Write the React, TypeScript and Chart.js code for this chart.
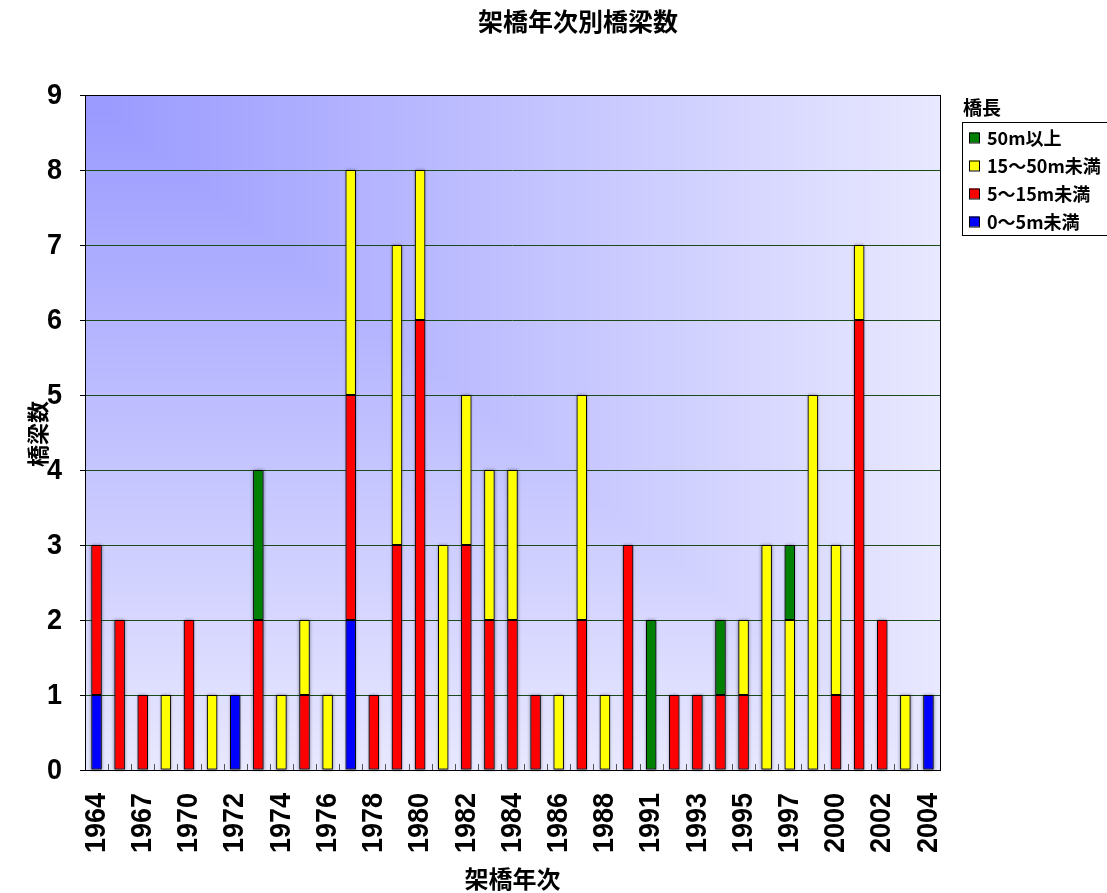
import React, { useEffect, useRef } from 'react';
import { Chart, registerables } from 'chart.js';

Chart.register(...registerables);

const years = [
  '1964', '1965', '1967', '1969', '1970', '1971', '1972', '1973', '1974', '1975',
  '1976', '1977', '1978', '1979', '1980', '1981', '1982', '1983', '1984', '1985',
  '1986', '1987', '1988', '1990', '1991', '1992', '1993', '1994', '1995', '1996',
  '1997', '1999', '2000', '2001', '2002', '2003', '2004',
];

const under5m = [1, 0, 0, 0, 0, 0, 1, 0, 0, 0, 0, 2, 0, 0, 0, 0, 0, 0, 0, 0, 0, 0, 0, 0, 0, 0, 0, 0, 0, 0, 0, 0, 0, 0, 0, 0, 1];
const m5to15 = [2, 2, 1, 0, 2, 0, 0, 2, 0, 1, 0, 3, 1, 3, 6, 0, 3, 2, 2, 1, 0, 2, 0, 3, 0, 1, 1, 1, 1, 0, 0, 0, 1, 6, 2, 0, 0];
const m15to50 = [0, 0, 0, 1, 0, 1, 0, 0, 1, 1, 1, 3, 0, 4, 2, 3, 2, 2, 2, 0, 1, 3, 1, 0, 0, 0, 0, 0, 1, 3, 2, 5, 2, 1, 0, 1, 0];
const over50m = [0, 0, 0, 0, 0, 0, 0, 2, 0, 0, 0, 0, 0, 0, 0, 0, 0, 0, 0, 0, 0, 0, 0, 0, 2, 0, 0, 1, 0, 0, 1, 0, 0, 0, 0, 0, 0];

const seriesLabels = ['0～5m未満', '5～15m未満', '15～50m未満', '50m以上'];
const seriesColors = ['#0000ff', '#ff0000', '#ffff00', '#008000'];

const chartTitle = '架橋年次別橋梁数';
const xTitle = '架橋年次';
const yTitle = '橋梁数';
const legendTitle = '橋長';

const DIGITS = '"Liberation Sans", Arial, sans-serif';
const CJK = '"Noto Sans CJK JP", sans-serif';
const TICK_FONT = `700 30px ${DIGITS}`;
const TICK_SX = 0.9;

const decoPlugin = {
  id: 'deco',
  beforeDraw(chart: any) {
    const { ctx, chartArea: a } = chart;
    ctx.save();
    ctx.fillStyle = '#ffffff';
    ctx.fillRect(0, 0, chart.width, chart.height);
    const L = Math.round(a.left);
    const T = Math.round(a.top);
    const W = Math.round(a.right - a.left);
    const H = Math.round(a.bottom - a.top);
    const c0 = [153, 153, 255];
    const c1 = [232, 232, 255];
    const img = ctx.createImageData(W, H);
    for (let y = 0; y < H; y++) {
      const v = y / (H - 1);
      for (let x = 0; x < W; x++) {
        const u = x / (W - 1);
        const t = Math.max(u, v);
        const o = (y * W + x) * 4;
        img.data[o] = c0[0] + (c1[0] - c0[0]) * t;
        img.data[o + 1] = c0[1] + (c1[1] - c0[1]) * t;
        img.data[o + 2] = c0[2] + (c1[2] - c0[2]) * t;
        img.data[o + 3] = 255;
      }
    }
    ctx.putImageData(img, L, T);
    ctx.restore();
  },
  beforeDatasetsDraw(chart: any) {
    const { ctx } = chart;
    ctx.save();
    ctx.shadowColor = 'rgba(0,0,0,0.55)';
    ctx.shadowBlur = 3;
    ctx.fillStyle = 'rgba(80,80,110,0.8)';
    chart.data.datasets.forEach((ds: any, di: number) => {
      const meta = chart.getDatasetMeta(di);
      meta.data.forEach((el: any, i: number) => {
        if (ds.data[i] == null) return;
        const { x, y, base, width } = el.getProps(['x', 'y', 'base', 'width'], true);
        ctx.fillRect(x - width / 2, Math.min(y, base), width, Math.abs(base - y));
      });
    });
    ctx.restore();
  },
  afterDatasetsDraw(chart: any) {
    const { ctx, chartArea: a, scales } = chart;
    const xs = scales.x;
    ctx.save();
    ctx.strokeStyle = '#555555';
    ctx.lineWidth = 1;
    const n = years.length;
    for (let i = 1; i < n; i++) {
      const px = Math.round((xs.getPixelForValue(i - 1) + xs.getPixelForValue(i)) / 2) + 0.5;
      ctx.beginPath();
      ctx.moveTo(px, a.bottom - 6);
      ctx.lineTo(px, a.bottom);
      ctx.stroke();
    }
    ctx.strokeStyle = '#000000';
    ctx.strokeRect(Math.round(a.left) + 0.5, Math.round(a.top) + 0.5, Math.round(a.right - a.left), Math.round(a.bottom - a.top));
    ctx.restore();
  },
  afterDraw(chart: any) {
    const { ctx, chartArea: a, scales } = chart;
    ctx.save();
    ctx.fillStyle = '#000000';

    // y tick labels
    ctx.font = TICK_FONT;
    ctx.textAlign = 'right';
    ctx.textBaseline = 'middle';
    scales.y.ticks.forEach((t: any) => {
      const py = scales.y.getPixelForValue(t.value);
      ctx.save();
      ctx.translate(62, py + 1);
      ctx.scale(TICK_SX, 1);
      ctx.fillText(String(t.value), 0, 0);
      ctx.restore();
    });
    // x tick labels (every other category)
    years.forEach((yr, i) => {
      if (i % 2 !== 0) return;
      const px = scales.x.getPixelForValue(i);
      ctx.save();
      ctx.translate(px, 793);
      ctx.rotate(-Math.PI / 2);
      ctx.scale(TICK_SX, 1);
      ctx.fillText(yr, 0, 0);
      ctx.restore();
    });

    // chart title
    ctx.font = `700 25px ${CJK}`;
    ctx.textAlign = 'center';
    ctx.textBaseline = 'middle';
    ctx.fillText(chartTitle, 578, 21);
    // x axis title
    ctx.font = `700 24px ${CJK}`;
    ctx.fillText(xTitle, (a.left + a.right) / 2, 879);
    // y axis title
    ctx.save();
    ctx.translate(38, 434);
    ctx.rotate(-Math.PI / 2);
    ctx.font = `700 22px ${CJK}`;
    ctx.fillText(yTitle, 0, 0);
    ctx.restore();
    // legend
    ctx.font = `700 19px ${CJK}`;
    ctx.textAlign = 'left';
    ctx.fillText(legendTitle, 963, 108);
    ctx.strokeStyle = '#000000';
    ctx.lineWidth = 1;
    ctx.strokeRect(962.5, 122.5, 160, 113);
    const ds = chart.data.datasets;
    ctx.font = `700 18px ${CJK}`;
    for (let k = 0; k < ds.length; k++) {
      const d = ds[ds.length - 1 - k];
      const cy = 137.5 + k * 28;
      ctx.fillStyle = d.backgroundColor;
      ctx.fillRect(969, cy - 5, 10, 10);
      ctx.strokeStyle = '#000000';
      ctx.strokeRect(969.5, cy - 4.5, 10, 10);
      ctx.fillStyle = '#000000';
      ctx.fillText(d.label, 987, cy + 1);
    }
    ctx.restore();
  },
};

export default function App() {
  const ref = useRef<HTMLCanvasElement | null>(null);
  useEffect(() => {
    if (!ref.current) return;
    const series = [under5m, m5to15, m15to50, over50m];
    const chart = new Chart(ref.current, {
      type: 'bar',
      data: {
        labels: years,
        datasets: series.map((arr, i) => ({
          label: seriesLabels[i],
          data: arr.map((v) => (v === 0 ? null : v)),
          backgroundColor: seriesColors[i],
          borderColor: '#000000',
          borderWidth: 1,
          borderSkipped: false,
          barPercentage: 0.45,
          categoryPercentage: 1,
        })),
      },
      options: {
        animation: false,
        responsive: false,
        maintainAspectRatio: false,
        layout: { padding: { top: 95, right: 167, left: 0, bottom: 0 } },
        plugins: {
          legend: { display: false },
          title: { display: false },
          tooltip: { enabled: false },
        },
        scales: {
          x: {
            stacked: true,
            offset: true,
            grid: { display: false },
            border: { display: false },
            ticks: { display: false, autoSkip: false },
            afterFit: (s: any) => {
              s.height = 123;
            },
          },
          y: {
            stacked: true,
            min: 0,
            max: 9,
            border: { display: false },
            grid: { color: '#1a4a1a', tickColor: '#000000', tickLength: 5, lineWidth: 1 },
            ticks: { display: false, stepSize: 1 },
            afterFit: (s: any) => {
              s.width = 85;
            },
          },
        },
      },
      plugins: [decoPlugin],
    } as any);
    return () => chart.destroy();
  }, []);
  return (
    <div style={{ position: 'fixed', left: 0, top: 0, width: 1107, height: 893 }}>
      <canvas ref={ref} width={1107} height={893} style={{ width: 1107, height: 893, display: 'block' }} />
    </div>
  );
}
